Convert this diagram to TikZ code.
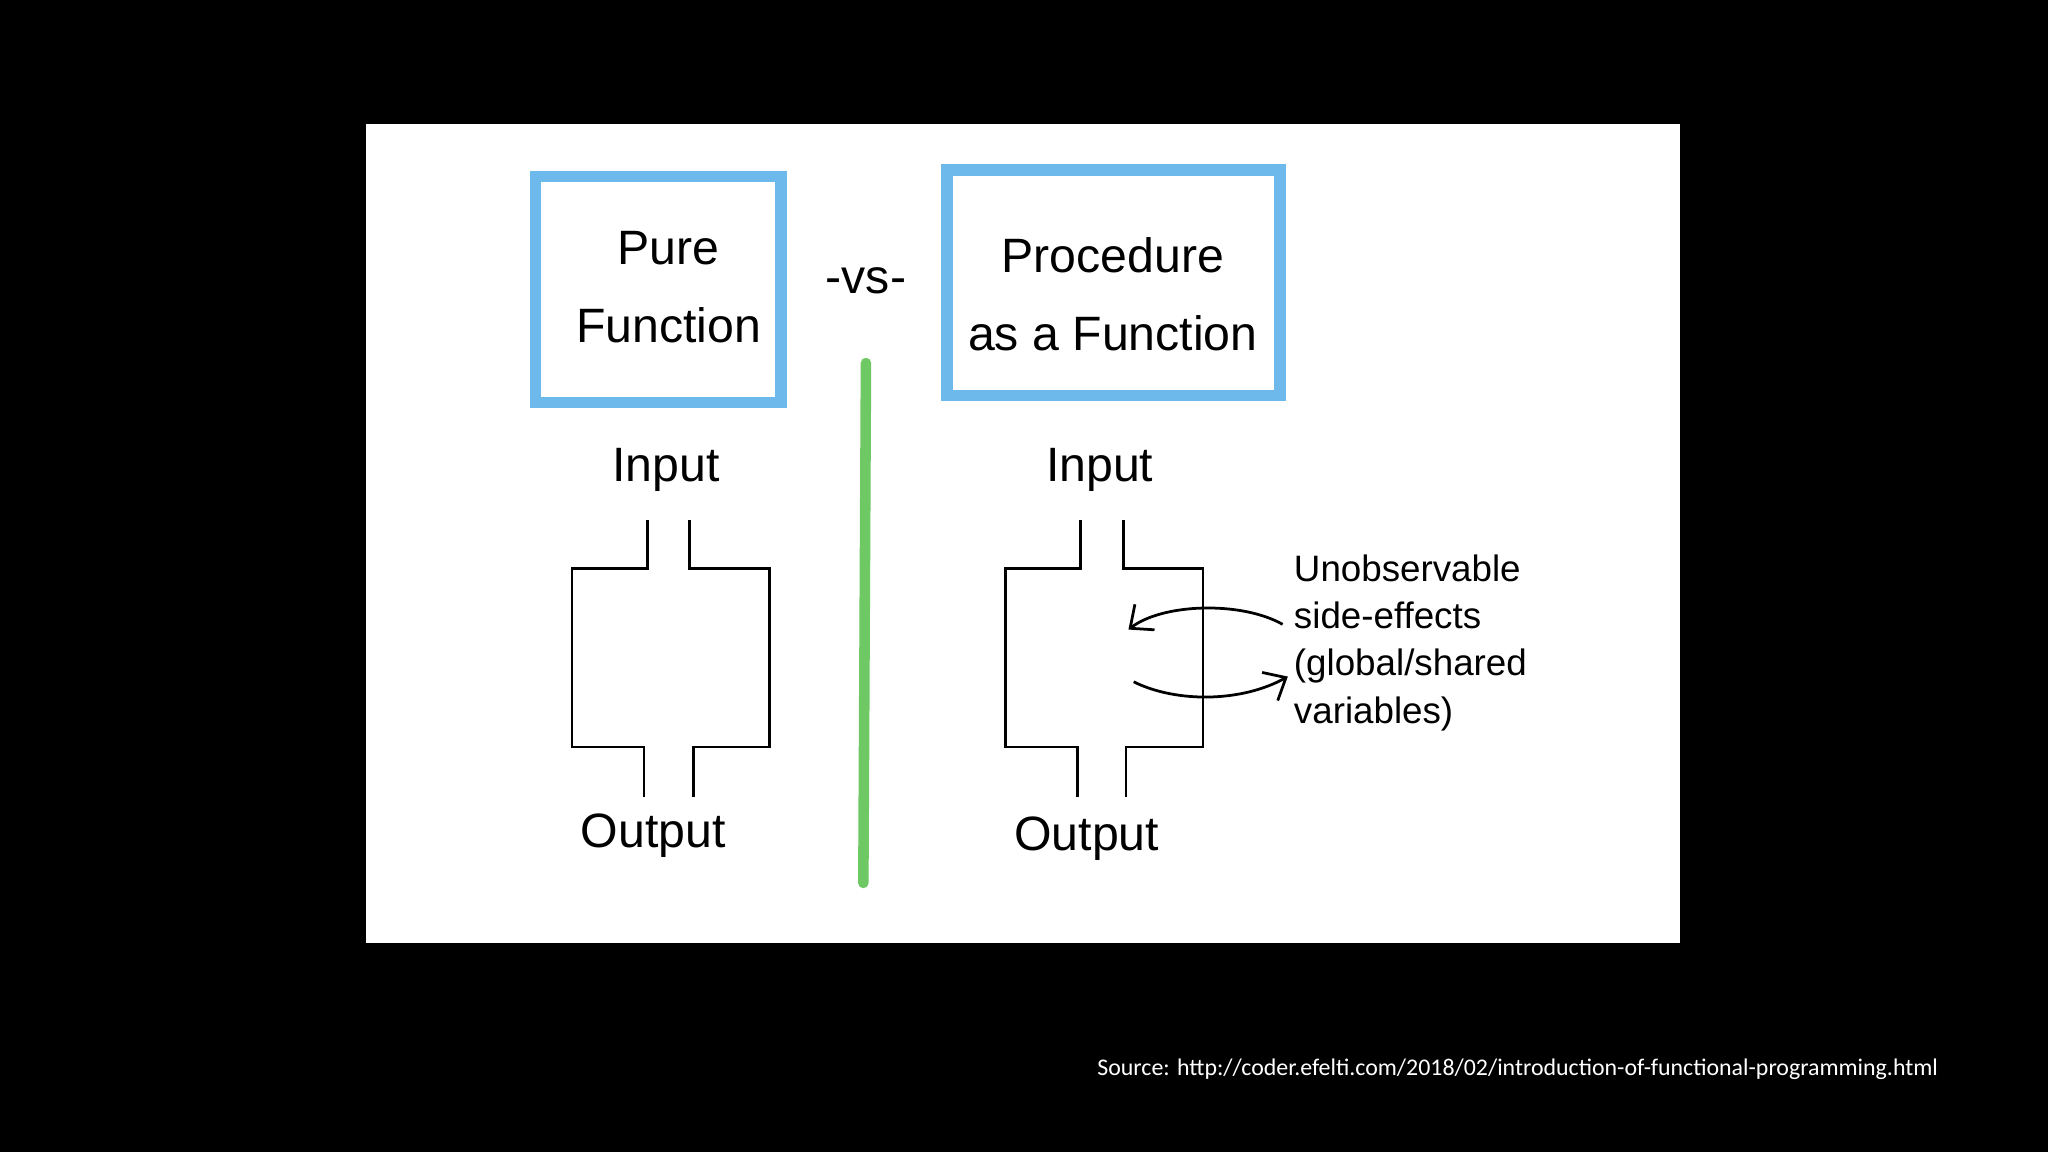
\documentclass[tikz,border=0pt]{standalone}
\usepackage{fontspec}
\setmainfont{Liberation Sans}
\newfontfamily\srcfont{Carlito}
\usetikzlibrary{arrows.meta}
\definecolor{boxblue}{RGB}{110,185,235}
\definecolor{lgreen}{RGB}{110,200,100}
\tikzset{
  titlebox/.style={draw=boxblue,line width=2.5pt},
  hand/.style={font=\fontsize{10.5}{17}\selectfont,align=center,inner sep=0pt},
  note/.style={font=\fontsize{8}{10.3}\selectfont,align=left,inner sep=0pt,anchor=north west},
  pipe/.style={line width=0.6pt},
  arr/.style={line width=0.6pt,-{Straight Barb[length=4pt,width=7pt]}}
}
\begin{document}
\begin{tikzpicture}[x=0.01cm,y=-0.01cm]
\fill[black] (0,0) rectangle (1568,882);
\useasboundingbox (0,0) rectangle (1568,882);
\fill[white] (280,95) rectangle (1286,722);
\draw[titlebox] (410,135) rectangle (598,308);
\draw[titlebox] (725,130) rectangle (980,303);
\node[hand] (pf) at (512,220) {Pure\\Function};
\node[hand] (vs) at (663,215) {-vs-};
\node[hand] (pr) at (852,225) {Procedure\\as a Function};
\coordinate (g1) at (663,278); \coordinate (g2) at (661,676);
\draw[lgreen,line width=2.3pt,line cap=round] (g1) -- (g2);
% left
\node[hand] (in1) at (510,360) {Input};
\node[hand] (out1) at (500,640) {Output};
\draw[pipe] (496,398) -- (496,435) -- (438,435) -- (438,572) -- (493,572) -- (493,610);
\draw[pipe] (528,398) -- (528,435) -- (589,435) -- (589,572) -- (531,572) -- (531,610);
% right
\node[hand] (in2) at (842,360) {Input};
\node[hand] (out2) at (832,642) {Output};
\draw[pipe] (827,398) -- (827,435) -- (770,435) -- (770,572) -- (825,572) -- (825,610);
\draw[pipe] (860,398) -- (860,435) -- (921,435) -- (921,572) -- (862,572) -- (862,610);
\node[note] (n) at (990,424) {Unobservable\\side-effects\\(global/shared\\variables)};
\coordinate (a1) at (982,478); \coordinate (a2) at (864,482);
\coordinate (b1) at (868,522); \coordinate (b2) at (986,518);
\draw[arr] (a1) .. controls (950,460) and (890,462) .. (a2);
\draw[arr] (b1) .. controls (900,538) and (950,538) .. (b2);
\node[text=white,font=\srcfont\fontsize{5.2}{6}\selectfont,inner sep=0pt] (src) at (1162,819) {Source: http://coder.efelti.com/2018/02/introduction-of-functional-programming.html};
\end{tikzpicture}
\end{document}
